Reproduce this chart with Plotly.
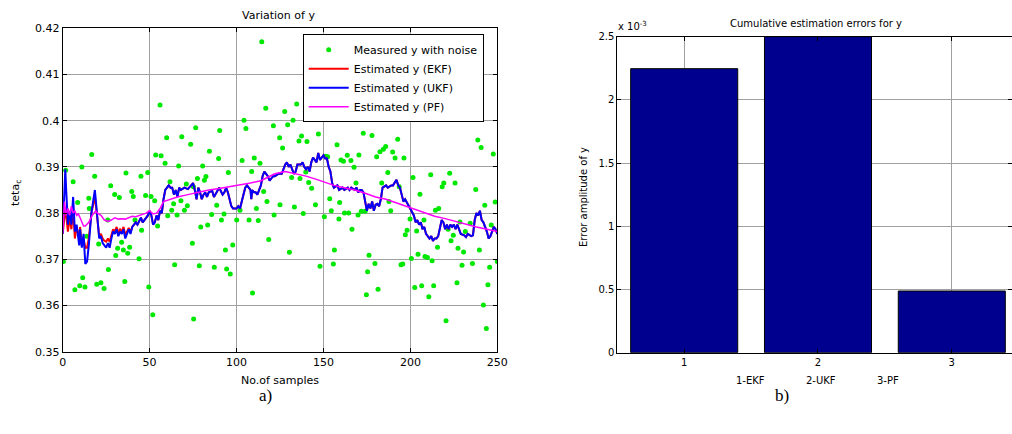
import plotly.graph_objects as go

# ---------------- data: left panel ----------------
meas_x = [0.4, 1.7, 6, 7, 8.6, 9.8, 11, 11.5, 12.8, 13.8, 15, 15.3, 16.7, 18.4, 19.6, 20.7, 22, 23.8,
          25.9, 26.3, 27.6, 29.9, 30.5, 31.6, 32.6, 33.9, 34.9, 35.7, 36.4, 37.4, 38.5, 39.7, 40.6,
          41.6, 43.9, 45, 45.4, 47.7, 48.9, 49.5, 50.8, 51.8, 52.9, 53.5, 54.6, 56, 56.6, 58.9, 59.8,
          60.4, 61.7, 62.7, 63.8, 64.4, 65.8, 66.7, 68, 68.5, 70, 71.1, 71.7, 73.6, 74.6, 75.2, 75.3,
          76.5, 77.5, 78.6, 79.4, 80.5, 81.5, 82.4, 83.4, 84.4, 85.7, 87.2, 88.6, 89.7, 90.3, 91.3,
          92.8, 93.6, 94.3, 95.3, 96.4, 97.8, 100.1, 102, 103.2, 104.3, 105.4, 107.2, 108.7, 109.2,
          110.2, 111.4, 112.5, 113.5, 114.5, 115.6, 116.8, 117.5, 118.5, 121.2, 121.6, 124.8, 125,
          126.5, 127.7, 129.4, 130.4, 131.7, 132.5, 133.3, 134.6, 135.9, 136.5, 137.4, 138.4, 139.8,
          140.5, 141.5, 143.2, 145.4, 147.1, 148, 150.5, 151.3, 152.4, 153.6, 154.5, 155.7, 156.3,
          157.8, 158.9, 159.3, 160.1, 161.5, 162.1, 163.7, 164.5, 165.8, 166.4, 167.6, 168.7, 169.9,
          170.4, 171.8, 172.9, 174, 174.7, 175.4, 176.2, 177.9, 179.6, 180.6, 181.4, 182.5, 183.5,
          184.5, 185.8, 187, 187.7, 188.7, 189.8, 191.2, 192.7, 193.6, 194.6, 195.6, 196.3, 197.1,
          198.1, 199.8, 200.6, 201.5, 202.5, 203.6, 204.4, 205.5, 206.5, 207.8, 208.4, 209.8, 210.6,
          211.7, 212.5, 213.4, 214.4, 215.6, 216.3, 218.3, 219.2, 220.5, 221.7, 222.6, 223.4, 224.7,
          225.7, 226.8, 227.4, 228.5, 229.7, 230.6, 231.6, 234.4, 235.7, 237.6, 238.8, 239.7, 240.7,
          242, 242.8, 243.7, 244.6, 245.6, 246.5, 247.7, 248.8, 250]
meas_y = [0.3695, 0.3893, 0.3868, 0.3634, 0.3823, 0.3643, 0.390, 0.366, 0.364, 0.375, 0.3832, 0.381,
          0.3927, 0.388, 0.3646, 0.3733, 0.3649, 0.3637, 0.3785, 0.3678, 0.3859, 0.384, 0.3708,
          0.3724, 0.3834, 0.3737, 0.372, 0.3652, 0.3887, 0.3713, 0.3726, 0.3847, 0.3836, 0.3785,
          0.3701, 0.388, 0.3763, 0.3838, 0.3888, 0.364, 0.3836, 0.358, 0.3827, 0.3926, 0.3772,
          0.4034, 0.3924, 0.3908, 0.3963, 0.3794, 0.3868, 0.3806, 0.382, 0.3688, 0.3796, 0.3902,
          0.3827, 0.3965, 0.3806, 0.3863, 0.3816, 0.3949, 0.3735, 0.3857, 0.3571, 0.3985, 0.3875,
          0.3686, 0.377, 0.3902, 0.3871, 0.3879, 0.3774, 0.3934, 0.3797, 0.3683, 0.3817, 0.3918,
          0.3979, 0.3785, 0.3798, 0.372, 0.3679, 0.3888, 0.3668, 0.3731, 0.3785, 0.3806, 0.3914,
          0.4001, 0.3983, 0.3785, 0.389, 0.3627, 0.3919, 0.381, 0.3784, 0.3908, 0.4171, 0.3847,
          0.4027, 0.3825, 0.3743, 0.3989, 0.3796, 0.3963, 0.3818, 0.3941, 0.402, 0.3991, 0.3715,
          0.3877, 0.4001, 0.3813, 0.4036, 0.3956, 0.3875, 0.3967, 0.3799, 0.3889, 0.3955, 0.3866,
          0.3854, 0.3818, 0.3971, 0.3685, 0.3792, 0.3923, 0.3922, 0.3831, 0.3805, 0.369, 0.372,
          0.3948, 0.3787, 0.3823, 0.3915, 0.3912, 0.380, 0.3925, 0.380, 0.3914, 0.3765, 0.3899,
          0.3865, 0.3796, 0.3926, 0.3804, 0.3973, 0.3804, 0.3623, 0.3673, 0.3709, 0.3968, 0.3691,
          0.3922, 0.3635, 0.3933, 0.3865, 0.3938, 0.3944, 0.3888, 0.3825, 0.3805, 0.3932, 0.3919,
          0.396, 0.3857, 0.3688, 0.369, 0.3919, 0.3753, 0.3763, 0.3787, 0.3702, 0.3877, 0.3639,
          0.3761, 0.3711, 0.3841, 0.3643, 0.3785, 0.3706, 0.3704, 0.3619, 0.3883, 0.3697, 0.3643,
          0.3806, 0.3726, 0.381, 0.3857, 0.3865, 0.3567, 0.3765, 0.3886, 0.374, 0.3752, 0.3865,
          0.3649, 0.3724, 0.3781, 0.3687, 0.3716, 0.376, 0.3778, 0.3691, 0.3851, 0.3958, 0.372,
          0.3942, 0.3601, 0.3817, 0.355, 0.3645, 0.3683, 0.3774, 0.3928, 0.3824, 0.3695]

ukf_x = [0, 1, 1.5, 2, 3, 4, 5, 6, 7, 8, 9.5, 10, 11, 12, 13, 14, 15, 16.5, 17, 18.5, 19, 20, 21, 22,
         23, 24, 25, 26, 27, 28, 29, 30, 31, 32, 33, 34, 35, 36, 37, 38, 39, 40, 42, 43, 45, 46, 47,
         48, 49, 50, 51, 52, 53, 54, 55, 56, 57, 58, 59, 60, 61, 62, 63, 64, 65, 66, 67, 68, 70, 72,
         74, 75, 76, 77, 78, 79, 80, 81, 82, 83, 84, 86, 87, 89, 90, 92, 93, 94, 95, 96, 97, 98, 100,
         101, 102, 103, 104, 105, 106, 107, 108, 108.5, 109, 110, 111, 112, 113, 114, 115, 116, 117,
         118, 119, 120, 121, 122, 124, 126, 127, 128, 129, 130, 131, 132, 133, 134, 135, 137, 138,
         139, 140, 141, 142, 143, 144, 145, 146, 147, 148, 149, 150, 151, 152, 153, 154, 155, 156,
         158, 159, 161, 162, 164, 165, 166, 168, 169, 170, 171, 172, 173, 174, 175, 176, 177, 178,
         179, 180, 181, 182, 183, 184, 186, 187, 189, 190, 191, 192, 193, 194, 195, 196, 197, 199,
         200, 201, 202, 203, 204, 205, 206, 207, 208, 209, 210, 211, 212, 213, 214, 215, 216, 217,
         218, 219, 220, 221, 222, 223, 224, 225, 226, 227, 228, 229, 231, 232, 233, 235, 236, 237,
         238, 239, 240, 241, 242, 244, 245, 246, 247, 248, 249, 250]
ukf_y = [0.3755, 0.3860, 0.3895, 0.3850, 0.3775, 0.3805, 0.3775, 0.3835, 0.376, 0.3775, 0.373,
         0.3765, 0.3725, 0.3755, 0.369, 0.3695, 0.373, 0.380, 0.3815, 0.385, 0.383, 0.378, 0.3745,
         0.375, 0.3735, 0.373, 0.3725, 0.3735, 0.3725, 0.3745, 0.376, 0.3755, 0.3765, 0.375, 0.376,
         0.3755, 0.3765, 0.3745, 0.3755, 0.3765, 0.3755, 0.377, 0.378, 0.3775, 0.379, 0.378, 0.3785,
         0.379, 0.3795, 0.3805, 0.3795, 0.3775, 0.378, 0.3795, 0.3785, 0.3805, 0.380, 0.383, 0.385,
         0.3855, 0.386, 0.3855, 0.3855, 0.384, 0.385, 0.3835, 0.3855, 0.385, 0.3855, 0.3852, 0.386,
         0.3865, 0.385, 0.383, 0.3855, 0.3845, 0.383, 0.384, 0.3845, 0.3835, 0.3845, 0.3848, 0.3835,
         0.385, 0.3855, 0.384, 0.3845, 0.3855, 0.3845, 0.383, 0.3815, 0.381, 0.381, 0.3815, 0.381,
         0.3825, 0.384, 0.3855, 0.386, 0.3855, 0.385, 0.383, 0.385, 0.3845, 0.3845, 0.384, 0.385,
         0.386, 0.388, 0.389, 0.3885, 0.388, 0.387, 0.3875, 0.388, 0.388, 0.3885, 0.3885, 0.3895,
         0.3905, 0.391, 0.390, 0.3905, 0.3895, 0.3885, 0.389, 0.3905, 0.3905, 0.391, 0.390, 0.3895,
         0.390, 0.389, 0.391, 0.392, 0.3915, 0.391, 0.393, 0.3915, 0.392, 0.3925, 0.3918, 0.3918,
         0.390, 0.389, 0.3865, 0.3855, 0.386, 0.385, 0.3855, 0.385, 0.3855, 0.385, 0.3855, 0.385,
         0.3855, 0.3845, 0.385, 0.385, 0.3845, 0.382, 0.3805, 0.382, 0.381, 0.3825, 0.3805, 0.3818,
         0.382, 0.3815, 0.383, 0.3855, 0.386, 0.3855, 0.386, 0.386, 0.3865, 0.3872, 0.386, 0.3855,
         0.384, 0.3825, 0.383, 0.3815, 0.381, 0.380, 0.3795, 0.378, 0.3785, 0.3775, 0.378, 0.3765,
         0.377, 0.3755, 0.375, 0.3745, 0.375, 0.374, 0.3745, 0.3745, 0.375, 0.377, 0.3785, 0.378,
         0.3765, 0.3775, 0.3765, 0.3775, 0.377, 0.3775, 0.3765, 0.3775, 0.3765, 0.3755, 0.3752,
         0.3748, 0.3755, 0.375, 0.3752, 0.3785, 0.380, 0.3795, 0.3805, 0.3785, 0.378, 0.376, 0.3745,
         0.375, 0.376, 0.377, 0.3765, 0.3755]

# EKF: differs visibly from UKF only over the first samples, then lies under the UKF curve
ekf_head_x = [0, 1, 1.5, 2, 3, 4, 5, 6, 7, 8, 9.5, 10, 11, 12, 13, 14, 15, 16.5, 17, 18.5, 19, 20,
              21, 22, 23, 24, 25, 26, 27, 28, 29, 30, 31, 32, 33, 34, 35, 36, 37, 38, 39]
ekf_head_y = [0.3755, 0.379, 0.381, 0.3795, 0.376, 0.379, 0.3765, 0.381, 0.3745, 0.377, 0.3745,
              0.377, 0.373, 0.3745, 0.3725, 0.3725, 0.3745, 0.380, 0.381, 0.3835, 0.382, 0.378,
              0.375, 0.3755, 0.3745, 0.374, 0.3738, 0.3745, 0.3738, 0.3752, 0.3765, 0.376, 0.377,
              0.3758, 0.3765, 0.376, 0.377, 0.3752, 0.376, 0.3768, 0.3758]

pf_x = [0, 1, 2, 3, 4, 5, 6, 7, 8, 9, 10, 11, 12, 13, 14, 15, 17, 19, 20, 22, 24, 26, 28, 30, 32,
        34, 36, 38, 40, 42, 44, 46, 48, 50, 52, 54, 56, 58, 62, 66, 72, 78, 84, 90, 96, 102, 108,
        114, 118, 122, 128, 134, 140, 146, 152, 156, 162, 168, 174, 180, 186, 192, 198, 202, 208,
        214, 220, 226, 232, 238, 244, 250]
pf_y = [0.3755, 0.3825, 0.3795, 0.381, 0.3795, 0.3815, 0.380, 0.3805, 0.3795, 0.3798, 0.379,
        0.378, 0.3772, 0.3772, 0.3775, 0.378, 0.3795, 0.3805, 0.380, 0.3795, 0.3785, 0.3782,
        0.3785, 0.379, 0.3787, 0.3788, 0.3787, 0.379, 0.3793, 0.3792, 0.3795, 0.3798, 0.380,
        0.3805, 0.3798, 0.380, 0.381, 0.3825, 0.383, 0.3835, 0.384, 0.3845, 0.385, 0.3853, 0.3857,
        0.386, 0.3865, 0.387, 0.3878, 0.3885, 0.389, 0.3885, 0.388, 0.3873, 0.3865, 0.386, 0.3855,
        0.385, 0.3843, 0.3835, 0.383, 0.3822, 0.3815, 0.3808, 0.380, 0.3793, 0.3788, 0.3782,
        0.3775, 0.377, 0.3765, 0.376]

left_xticks = [0, 50, 100, 150, 200, 250]
left_yticks = [0.35, 0.36, 0.37, 0.38, 0.39, 0.40, 0.41, 0.42]
left_yticklabels = ["0.35", "0.36", "0.37", "0.38", "0.39", "0.4", "0.41", "0.42"]

# ---------------- data: right panel ----------------
bar_x = [1, 2, 3]
bar_err = [0.002247, 0.0025, 0.000488]
right_yticks = [0, 0.0005, 0.001, 0.0015, 0.002, 0.0025]
right_yticklabels = ["0", "0.5", "1", "1.5", "2", "2.5"]
method_labels = ["1-EKF", "2-UKF", "3-PF"]

# ---------------- figure ----------------
W, H = 1012, 434
def px(x):
    return x / W
def py(y):
    return 1 - y / H

FONT = "DejaVu Sans"
fig = go.Figure()

fig.add_trace(go.Scatter(x=meas_x, y=meas_y, mode="markers", name="Measured y with noise",
                         marker=dict(color="#00e800", size=5, line=dict(width=0)),
                         xaxis="x", yaxis="y"))
ekf_x = ekf_head_x + ukf_x[len(ekf_head_x):]
ekf_y = ekf_head_y + ukf_y[len(ekf_head_y):]
fig.add_trace(go.Scatter(x=ekf_x, y=ekf_y, mode="lines", name="Estimated y (EKF)",
                         line=dict(color="#ff0000", width=2), xaxis="x", yaxis="y"))
fig.add_trace(go.Scatter(x=ukf_x, y=ukf_y, mode="lines", name="Estimated y (UKF)",
                         line=dict(color="#0000ff", width=2), xaxis="x", yaxis="y"))
fig.add_trace(go.Scatter(x=pf_x, y=pf_y, mode="lines", name="Estimated y (PF)",
                         line=dict(color="#ff00ff", width=1.5), xaxis="x", yaxis="y"))

fig.add_trace(go.Bar(x=bar_x, y=bar_err, width=0.8, showlegend=False,
                     marker=dict(color="#00008f", line=dict(color="black", width=1)),
                     xaxis="x2", yaxis="y2"))

axis_common = dict(showline=True, linecolor="black", linewidth=1, mirror="ticks",
                   ticks="inside", ticklen=4, tickcolor="black", zeroline=False,
                   showgrid=True, gridcolor="#a0a0a0", gridwidth=1, automargin=False)

fig.update_layout(
    width=W, height=H,
    margin=dict(l=0, r=0, t=0, b=0, autoexpand=False),
    paper_bgcolor="white", plot_bgcolor="white",
    showlegend=True,
    xaxis=dict(domain=[px(62.7), px(497.3)], range=[0, 250], anchor="y",
               tickvals=left_xticks, tickfont=dict(family=FONT, size=11, color="black"),
               **axis_common),
    yaxis=dict(domain=[py(351.7), py(28.3)], range=[0.35, 0.42], anchor="x",
               tickvals=left_yticks, ticktext=left_yticklabels,
               tickfont=dict(family=FONT, size=11, color="black"), **axis_common),
    xaxis2=dict(domain=[px(617.3), 1.0], range=[0.5, 3.45], anchor="y2",
                tickvals=bar_x, tickfont=dict(family=FONT, size=10, color="black"),
                **axis_common),
    yaxis2=dict(domain=[py(352.7), py(36.7)], range=[0, 0.0025], anchor="x2",
                tickvals=right_yticks, ticktext=right_yticklabels,
                tickfont=dict(family=FONT, size=10, color="black"), **axis_common),
    legend=dict(x=px(302.7), y=py(34.3), xanchor="left", yanchor="top",
                bgcolor="white", bordercolor="black", borderwidth=1,
                font=dict(family=FONT, size=11, color="black"),
                itemwidth=40, tracegroupgap=0),
)

ann = []
def add_text(text, x, y, size, family=FONT, angle=0, xanchor="center"):
    ann.append(dict(text=text, x=px(x), y=py(y), xref="paper", yref="paper",
                    showarrow=False, textangle=angle, xanchor=xanchor, yanchor="middle",
                    font=dict(family=family, size=size, color="black")))

add_text("Variation of y", 278, 15, 11)
add_text("No.of samples", 280, 380, 11)
add_text("teta<sub>c</sub>", 16, 193, 11, angle=-90)
add_text("Cumulative estimation errors for y", 816, 24, 10)
add_text("Error amplitude of y", 583, 197, 10, angle=-90)
add_text("x 10<sup>-3</sup>", 616, 26, 10, xanchor="left")
for lab, xc in zip(method_labels, [750, 821, 888]):
    add_text(lab, xc, 380, 10)
add_text("a)", 265, 395, 17, family="Liberation Serif")
add_text("b)", 782, 395, 17, family="Liberation Serif")
fig.update_layout(annotations=ann)

fig.write_html("out.html", config={"displayModeBar": False},
               post_script="document.body.style.margin='0';document.body.style.padding='0';")
